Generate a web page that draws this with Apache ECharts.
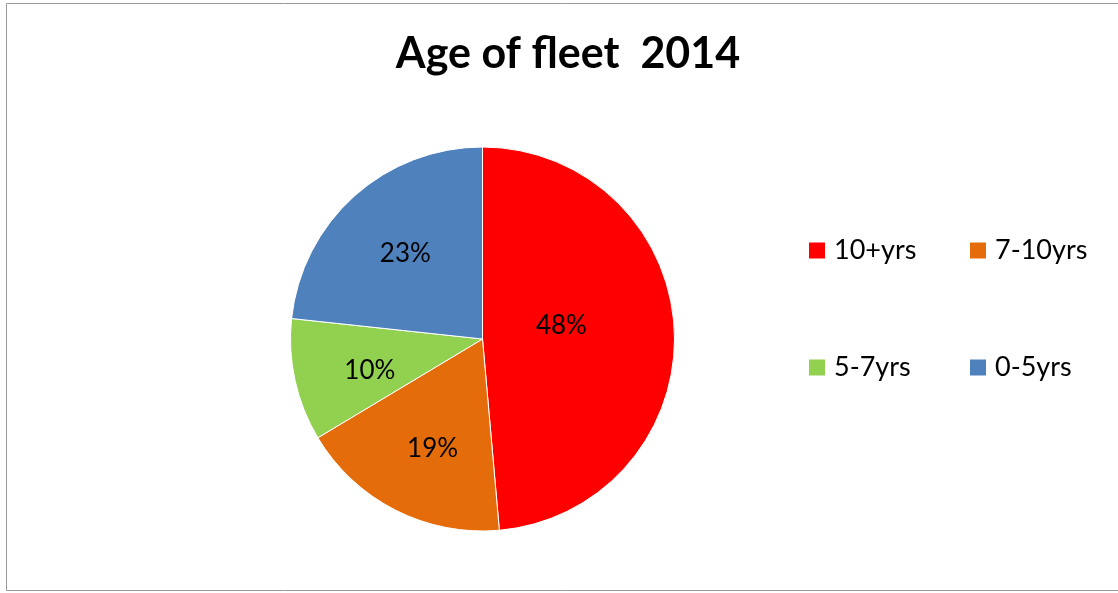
<!DOCTYPE html>
<html>
<head>
<meta charset="utf-8">
<script src="https://cdn.jsdelivr.net/npm/echarts@6/dist/echarts.min.js"></script>
<style>
html, body { margin: 0; padding: 0; background: #fff; }
#chart { width: 1118px; height: 593px; }
</style>
</head>
<body>
<div id="chart"></div>
<script>
// data (slice sizes as drawn; labels as printed on the original)
const categories = ["10+yrs", "7-10yrs", "5-7yrs", "0-5yrs"]
const shares = [48.6, 17.8, 10.3, 23.3]
const labelTexts = ["48%", "19%", "10%", "23%"]
const colors = ["#FF0000", "#E46C0A", "#92D050", "#4F81BD"]
// label nudges so they sit where the original put them
const labelNudge = [[-20, -9], [-5, 21], [-16, 10], [-11, -12]]

const font = "Lato"
const chart = echarts.init(document.getElementById("chart"))

const pieData = categories.map(function (name, i) {
    return {
        name: name,
        value: shares[i],
        itemStyle: { color: colors[i] },
        label: { offset: labelNudge[i], formatter: labelTexts[i] }
    }
})

const legendBase = {
    orient: "vertical",
    top: 237,
    padding: 0,
    itemWidth: 18,
    itemHeight: 18,
    itemGap: 90,
    icon: "rect",
    selectedMode: false,
    textStyle: { fontFamily: font, fontSize: 27, color: "#000", padding: [0, 0, 0, 3] }
}

const option = {
    animation: false,
    title: {
        text: "Age of fleet  2014",
        left: 563,
        textAlign: "center",
        top: 28,
        textStyle: { fontFamily: font, fontSize: 43, fontWeight: "bold", color: "#000" }
    },
    legend: [
        Object.assign({}, legendBase, { left: 807, data: [categories[0], categories[2]] }),
        Object.assign({}, legendBase, { left: 968, data: [categories[1], categories[3]] })
    ],
    graphic: [{
        type: "rect",
        shape: { x: 6.5, y: 3.5, width: 1120, height: 587 },
        style: { fill: "none", stroke: "#9a9a9a", lineWidth: 1 },
        silent: true
    }],
    series: [{
        type: "pie",
        center: [482.5, 339],
        radius: [0, 192],
        startAngle: 90,
        clockwise: true,
        itemStyle: { borderColor: "#fff", borderWidth: 1 },
        label: {
            show: true,
            position: "inside",
            fontFamily: font,
            fontSize: 26,
            color: "#000"
        },
        labelLine: { show: false },
        emphasis: { disabled: true },
        data: pieData
    }]
}

chart.setOption(option)
</script>
</body>
</html>
